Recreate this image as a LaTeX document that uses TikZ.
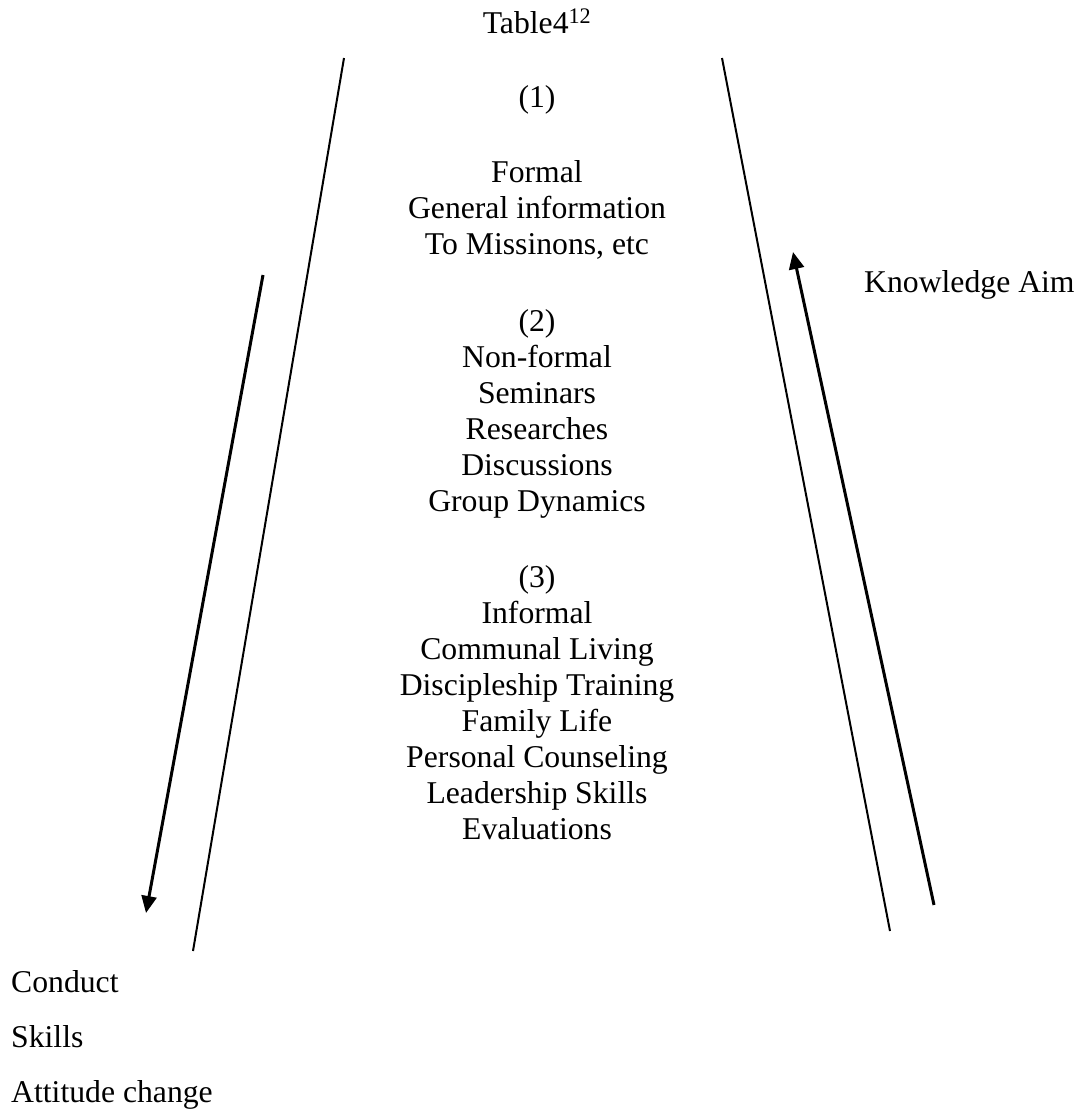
\documentclass[tikz,border=0pt]{standalone}
\usepackage{fontspec}
\setmainfont{Liberation Serif}
\usetikzlibrary{positioning,arrows.meta}

\tikzset{
  txt/.style={inner sep=0pt, font=\fontsize{31.7}{36}\selectfont},
  block/.style={txt, align=center, anchor=north},
  side/.style={txt, anchor=base west},
  edge line/.style={line width=2pt},
  flow/.style={line width=3pt, -{Triangle[length=17pt,width=15pt]}}
}

\begin{document}
\begin{tikzpicture}[x=1pt,y=-1pt]
  \useasboundingbox (0,0) rectangle (1081,1109);

  \node[txt, anchor=base] (title) at (537,33) {Table4\textsuperscript{12}};
  \node[block] (blk1) at (537,85) {(1)\\[39pt]Formal\\General information\\To Missinons, etc};
  \node[block] (blk2) at (537,309) {(2)\\Non-formal\\Seminars\\Researches\\Discussions\\Group Dynamics};
  \node[block] (blk3) at (537,565) {(3)\\Informal\\Communal Living\\Discipleship Training\\Family Life\\Personal Counseling\\Leadership Skills\\Evaluations};

  \node[side] (aim) at (864,292) {Knowledge Aim};
  \node[side] (conduct) at (11,992) {Conduct};
  \node[side] (skills) [below=55pt of conduct.base west, anchor=base west] {Skills};
  \node[side] (attitude) [below=55pt of skills.base west, anchor=base west] {Attitude change};

  % the two side walls
  \coordinate (lwtop) at (344,58);
  \coordinate (lwbot) at (193,951);
  \coordinate (rwtop) at (722,58);
  \coordinate (rwbot) at (890,931);
  \draw[edge line] (lwtop) -- (lwbot);
  \draw[edge line] (rwtop) -- (rwbot);

  % arrows
  \coordinate (lastart) at (263,275);
  \coordinate (laend) at (146,913);
  \coordinate (rastart) at (934,905);
  \coordinate (raend) at (793,252);
  \draw[flow] (lastart) -- (laend);
  \draw[flow] (rastart) -- (raend);
\end{tikzpicture}
\end{document}
